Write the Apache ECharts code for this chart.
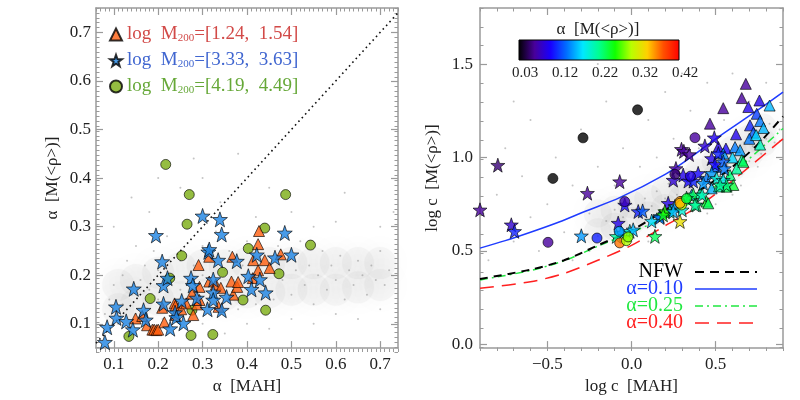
<!DOCTYPE html>
<html><head><meta charset="utf-8">
<script src="https://cdn.jsdelivr.net/npm/echarts@6/dist/echarts.min.js"></script>
<style>html,body{margin:0;padding:0;background:#fff}#c{width:800px;height:400px}</style>
</head><body><div id="c"></div>
<script>
// ---------- tick values ----------
const leftXTicks = [0.1,0.2,0.3,0.4,0.5,0.6,0.7];
const leftYTicks = [0.1,0.2,0.3,0.4,0.5,0.6,0.7];
const rightXTicks = [-0.5,0,0.5];
const rightYTicks = [0,0.5,1.0,1.5];
const rightYMinor = [0,0.1,0.2,0.3,0.4,0.5,0.6,0.7,0.8,0.9,1.0,1.1,1.2,1.3,1.4,1.5,1.6,1.7,1.8];
const colorbarLabels = ['0.03','0.12','0.22','0.32','0.42'];
const cbColors = ['#000000','#48009a','#1800ff','#0070ff','#00e8ff','#00ff90','#10ff00','#b8ff00','#ffd000','#ff5000','#ff0000'];

// ---------- left panel data: [alpha MAH, alpha M(<rho>)] ----------
const triLeft = [[0.149,0.111],[0.164,0.116],[0.175,0.097],[0.187,0.088],[0.191,0.088],[0.196,0.087],[0.200,0.088],[0.209,0.133],[0.214,0.103],[0.237,0.142],[0.239,0.137],[0.238,0.118],[0.252,0.130],[0.263,0.142],[0.276,0.162],[0.279,0.118],[0.288,0.140],[0.291,0.221],[0.293,0.176],[0.293,0.149],[0.315,0.238],[0.315,0.187],[0.330,0.181],[0.336,0.135],[0.341,0.174],[0.365,0.187],[0.367,0.238],[0.369,0.160],[0.378,0.176],[0.380,0.186],[0.413,0.194],[0.414,0.231],[0.425,0.264],[0.427,0.291],[0.425,0.210],[0.440,0.231],[0.451,0.215],[0.476,0.243]];
const starLeft = [[0.080,0.062],[0.085,0.093],[0.105,0.135],[0.106,0.112],[0.128,0.105],[0.145,0.172],[0.143,0.088],[0.167,0.128],[0.172,0.108],[0.195,0.282],[0.209,0.228],[0.212,0.179],[0.212,0.141],[0.221,0.194],[0.227,0.090],[0.238,0.123],[0.241,0.113],[0.253,0.147],[0.257,0.101],[0.274,0.194],[0.278,0.179],[0.287,0.153],[0.300,0.322],[0.313,0.248],[0.315,0.253],[0.311,0.130],[0.324,0.191],[0.324,0.164],[0.324,0.149],[0.335,0.231],[0.339,0.315],[0.343,0.284],[0.343,0.128],[0.354,0.155],[0.377,0.229],[0.403,0.198],[0.410,0.171],[0.422,0.242],[0.429,0.191],[0.442,0.164],[0.463,0.236],[0.485,0.287],[0.500,0.242]];
const circLeft = [[0.217,0.428],[0.270,0.366],[0.487,0.366],[0.265,0.305],[0.253,0.240],[0.226,0.194],[0.182,0.152],[0.134,0.074],[0.276,0.128],[0.274,0.076],[0.323,0.078],[0.345,0.206],[0.391,0.149],[0.403,0.255],[0.440,0.297],[0.442,0.128],[0.472,0.203],[0.543,0.262]];
const diagLine = [[0.06,0.06],[0.74,0.74]];
const cloudLeft = [[0.11,0.13],[0.11,0.18],[0.15,0.14],[0.15,0.19],[0.2,0.15],[0.2,0.205],[0.25,0.155],[0.25,0.215],[0.3,0.16],[0.3,0.22],[0.35,0.16],[0.35,0.22],[0.4,0.165],[0.4,0.225],[0.45,0.165],[0.45,0.225],[0.5,0.17],[0.5,0.225],[0.55,0.17],[0.55,0.225],[0.6,0.17],[0.6,0.225],[0.65,0.175],[0.65,0.225],[0.7,0.18],[0.7,0.225]];
const speckLeft = [[0.08,0.12],[0.09,0.15],[0.1,0.18],[0.11,0.1],[0.12,0.2],[0.12,0.14],[0.13,0.23],[0.14,0.16],[0.15,0.12],[0.15,0.26],[0.16,0.19],[0.17,0.22],[0.17,0.13],[0.18,0.17],[0.19,0.25],[0.2,0.15],[0.2,0.21],[0.21,0.11],[0.22,0.18],[0.22,0.28],[0.23,0.2],[0.24,0.14],[0.25,0.23],[0.25,0.17],[0.26,0.31],[0.27,0.19],[0.27,0.12],[0.28,0.22],[0.29,0.16],[0.3,0.26],[0.3,0.2],[0.31,0.14],[0.32,0.23],[0.33,0.18],[0.33,0.29],[0.34,0.12],[0.35,0.21],[0.36,0.16],[0.36,0.25],[0.37,0.19],[0.38,0.13],[0.39,0.22],[0.4,0.27],[0.4,0.17],[0.41,0.2],[0.42,0.14],[0.43,0.24],[0.44,0.18],[0.45,0.21],[0.46,0.15],[0.47,0.26],[0.48,0.19],[0.49,0.23],[0.5,0.16],[0.51,0.21],[0.52,0.27],[0.53,0.18],[0.54,0.22],[0.55,0.14],[0.56,0.2],[0.57,0.25],[0.58,0.17],[0.59,0.22],[0.6,0.19],[0.61,0.24],[0.62,0.15],[0.63,0.21],[0.64,0.18],[0.65,0.23],[0.66,0.2],[0.67,0.16],[0.68,0.22],[0.69,0.19],[0.7,0.25],[0.71,0.18],[0.72,0.21],[0.1,0.3],[0.14,0.36],[0.18,0.33],[0.25,0.38],[0.3,0.4],[0.34,0.35],[0.42,0.32],[0.45,0.38],[0.5,0.33],[0.55,0.3],[0.6,0.31],[0.7,0.3],[0.38,0.45],[0.28,0.44],[0.2,0.4],[0.62,0.37],[0.73,0.33],[0.3,0.1],[0.4,0.1],[0.5,0.11],[0.6,0.12],[0.35,0.08],[0.45,0.09],[0.7,0.13],[0.25,0.09],[0.55,0.1],[0.65,0.11]];

// ---------- right panel data: [log c MAH, log c M(<rho>), alpha] ----------
const triRight = [[0.679,1.394,0.07],[0.655,1.318,0.07],[0.76,1.305,0.10],[0.694,1.27,0.10],[0.82,1.278,0.17],[0.545,1.264,0.07],[0.466,1.181,0.07],[0.744,1.234,0.13],[0.764,1.195,0.15],[0.704,1.172,0.12],[0.784,1.158,0.17],[0.621,1.124,0.10],[0.724,1.133,0.14],[0.516,1.056,0.10],[0.561,1.048,0.11],[0.615,1.056,0.15],[0.645,1.039,0.16],[0.764,1.069,0.21],[0.545,1.021,0.16],[0.655,0.986,0.22],[0.585,0.906,0.23],[0.625,0.941,0.22],[0.664,0.977,0.24],[0.605,0.853,0.25],[0.446,0.764,0.25],[0.357,0.8,0.17],[0.407,0.809,0.22],[0.456,0.755,0.24],[0.476,0.835,0.17],[0.52,0.845,0.22],[0.565,0.844,0.24],[0.70,1.10,0.15],[0.74,1.12,0.18],[0.60,1.00,0.18],[0.50,0.95,0.14]];
const starRight = [[-0.794,0.959,0.06],[-0.262,0.809,0.07],[-0.07,0.871,0.07],[-0.9,0.72,0.07],[-0.714,0.64,0.09],[-0.695,0.605,0.12],[-0.298,0.581,0.16],[-0.079,0.649,0.10],[-0.06,0.596,0.17],[-0.01,0.605,0.2],[0.01,0.613,0.17],[-0.089,0.578,0.22],[-0.04,0.746,0.11],[0.04,0.711,0.12],[0.066,0.714,0.14],[0.139,0.578,0.24],[0.436,1.062,0.09],[0.297,1.044,0.07],[0.311,1.033,0.07],[0.343,1.016,0.07],[0.264,0.941,0.07],[0.248,0.879,0.09],[0.307,0.906,0.10],[0.337,0.874,0.11],[0.367,0.874,0.12],[0.396,0.915,0.11],[0.476,0.995,0.10],[0.516,1.021,0.12],[0.496,0.963,0.11],[0.545,0.977,0.14],[0.551,0.941,0.15],[0.492,1.106,0.10],[0.446,0.888,0.15],[0.476,0.915,0.16],[0.426,0.862,0.16],[0.506,0.888,0.2],[0.545,0.879,0.19],[0.565,0.853,0.23],[0.526,0.853,0.22],[0.367,0.8,0.24],[0.327,0.782,0.23],[0.387,0.746,0.23],[0.218,0.755,0.10],[0.258,0.738,0.16],[0.228,0.711,0.22],[0.288,0.658,0.33],[0.169,0.685,0.16],[0.198,0.711,0.27],[0.248,0.711,0.17],[0.168,0.679,0.15],[0.188,0.693,0.26],[0.377,0.746,0.22],[0.30,0.72,0.20],[0.12,0.66,0.18],[0.42,0.80,0.21]];
const circRight = [[-0.467,0.888,0.03],[-0.288,1.105,0.03],[0.036,1.255,0.03],[-0.496,0.546,0.07],[-0.205,0.569,0.12],[-0.073,0.605,0.16],[-0.07,0.543,0.37],[-0.03,0.555,0.30],[-0.02,0.575,0.29],[-0.04,0.764,0.08],[0.377,1.106,0.07],[0.258,0.91,0.06],[0.288,0.764,0.36],[0.297,0.746,0.31],[0.288,0.755,0.35],[0.327,0.78,0.25],[0.35,0.90,0.10]];
const nfwCurve = [[-0.9,0.35],[-0.6,0.40],[-0.4,0.45],[-0.2,0.53],[0,0.61],[0.15,0.69],[0.3,0.77],[0.45,0.85],[0.6,0.95],[0.75,1.07],[0.9,1.22]];
const a10Curve = [[-0.9,0.515],[-0.75,0.555],[-0.6,0.60],[-0.43,0.655],[-0.27,0.714],[-0.07,0.785],[0.2,0.91],[0.35,1.0],[0.5,1.10],[0.76,1.26],[0.9,1.35]];
const a25Curve = [[-0.9,0.345],[-0.6,0.395],[-0.4,0.448],[-0.2,0.525],[0,0.60],[0.2,0.68],[0.45,0.815],[0.65,0.955],[0.9,1.155]];
const a40Curve = [[-0.9,0.30],[-0.6,0.335],[-0.4,0.38],[-0.2,0.45],[0,0.53],[0.2,0.635],[0.4,0.74],[0.55,0.84],[0.7,0.95],[0.9,1.10]];
const cloudRight = [[-0.2,0.60],[-0.2,0.70],[-0.1,0.63],[-0.1,0.72],[0,0.66],[0,0.75],[0.1,0.69],[0.1,0.78],[0.2,0.73],[0.2,0.82],[0.3,0.78],[0.3,0.87],[0.4,0.83],[0.4,0.92],[0.5,0.89],[0.5,0.98],[0.6,0.95],[0.6,1.04],[0.7,1.02],[0.7,1.10],[0.78,1.08],[0.78,1.16]];
const speckRight = [[-0.3,0.6],[-0.25,0.7],[-0.2,0.58],[-0.15,0.66],[-0.1,0.72],[-0.08,0.6],[-0.05,0.68],[0,0.75],[0.02,0.63],[0.05,0.7],[0.08,0.78],[0.1,0.66],[0.12,0.74],[0.15,0.82],[0.17,0.7],[0.2,0.78],[0.22,0.86],[0.24,0.72],[0.27,0.8],[0.3,0.88],[0.32,0.76],[0.35,0.84],[0.37,0.92],[0.4,0.8],[0.42,0.88],[0.45,0.96],[0.47,0.84],[0.5,0.92],[0.52,1.0],[0.55,0.88],[0.57,0.96],[0.6,1.04],[0.62,0.92],[0.65,1.0],[0.67,1.08],[0.7,0.98],[0.72,1.06],[0.75,1.14],[0.77,1.02],[0.8,1.1],[0.82,1.18],[0.85,1.08],[0.88,1.15],[-0.85,0.45],[-0.8,0.8],[-0.75,1.05],[-0.7,0.55],[-0.65,0.9],[-0.6,1.2],[-0.55,0.5],[-0.5,0.75],[-0.45,1.0],[-0.4,0.6],[-0.35,0.85],[-0.3,1.15],[-0.25,0.5],[-0.2,0.95],[-0.15,1.3],[-0.1,0.85],[-0.05,1.05],[0,0.55],[0.05,0.95],[0.1,1.2],[0.15,1.0],[0.2,1.35],[0.25,1.1],[0.3,0.65],[0.35,1.25],[0.4,1.05],[0.45,1.4],[0.5,0.75],[0.55,1.2],[0.6,1.45],[0.65,0.85],[0.7,1.3],[0.75,0.95],[0.8,1.4],[0.85,1.25],[-0.88,0.7],[-0.6,0.68],[-0.35,0.45],[0.1,0.55],[0.3,1.45],[-0.7,1.3],[-0.2,1.5],[0.6,0.8],[0.45,0.7]];

const names = ['log M200=[1.24, 1.54]','log M200=[3.33, 3.63]','log M200=[4.19, 4.49]'];

// ---------- styling ----------
const FONT = 'Liberation Serif';
const AX = '#9a9a9a';
const STAR = 'path://M0,-10L2.35,-3.24L9.51,-3.09L3.8,1.24L5.88,8.09L0,4L-5.88,8.09L-3.8,1.24L-9.51,-3.09L-2.35,-3.24Z';
const fmt1 = v => (v < 0 ? '\u2212' : '') + Math.abs(v).toFixed(1);

function mainAxis(gi, pos, min, max, ticks, extra) {
  const a = {
    type: 'value', gridIndex: gi, position: pos, min: min, max: max,
    axisLine: {show: true, onZero: false, lineStyle: {color: AX, width: 1.5}},
    axisTick: {show: true, inside: true, length: 7, customValues: ticks, lineStyle: {color: AX, width: 1.2}},
    axisLabel: {show: false, customValues: ticks},
    splitLine: {show: false}
  };
  return Object.assign(a, extra || {});
}
function minorAxis(gi, pos, min, max, spec) {
  const a = {
    type: 'value', gridIndex: gi, position: pos, min: min, max: max,
    axisLine: {show: false, onZero: false}, axisLabel: {show: false}, splitLine: {show: false},
    axisTick: {show: true, inside: true, length: 3.5, lineStyle: {color: AX, width: 1}}
  };
  if (Array.isArray(spec)) a.axisTick.customValues = spec; else a.interval = spec;
  return a;
}
const lbl = (margin) => ({show: true, margin: margin, color: '#222', fontSize: 17, fontFamily: FONT, formatter: fmt1});
const nm = {color: '#222', fontSize: 17, fontFamily: FONT};

const LX = [0.06, 0.74], LY = [0.05, 0.75], RX = [-0.9, 0.9], RY = [-0.02, 1.8];
const gL = {left: 96, top: 8, width: 302, height: 344};
const gR = {left: 480, top: 8, width: 303, height: 343};

const xAxis = [
  mainAxis(0, 'bottom', LX[0], LX[1], leftXTicks, {axisLabel: Object.assign(lbl(8), {customValues: leftXTicks}), name: '\u03b1  [MAH]', nameLocation: 'middle', nameGap: 26, nameTextStyle: nm}),
  mainAxis(0, 'top', LX[0], LX[1], leftXTicks),
  minorAxis(1, 'bottom', LX[0], LX[1], 0.01),
  minorAxis(1, 'top', LX[0], LX[1], 0.01),
  mainAxis(2, 'bottom', RX[0], RX[1], rightXTicks, {axisLabel: Object.assign(lbl(8), {customValues: rightXTicks}), name: 'log c  [MAH]', nameLocation: 'middle', nameGap: 26, nameTextStyle: nm}),
  mainAxis(2, 'top', RX[0], RX[1], rightXTicks),
  minorAxis(3, 'bottom', RX[0], RX[1], 0.1),
  minorAxis(3, 'top', RX[0], RX[1], 0.1)
];
const yAxis = [
  mainAxis(0, 'left', LY[0], LY[1], leftYTicks, {axisLabel: Object.assign(lbl(5), {customValues: leftYTicks}), name: '\u03b1  [M(<\u03c1>)]', nameLocation: 'middle', nameGap: 35, nameTextStyle: nm}),
  mainAxis(0, 'right', LY[0], LY[1], leftYTicks),
  minorAxis(1, 'left', LY[0], LY[1], 0.01),
  minorAxis(1, 'right', LY[0], LY[1], 0.01),
  mainAxis(2, 'left', RY[0], RY[1], rightYTicks, {axisLabel: Object.assign(lbl(7), {customValues: rightYTicks}), name: 'log c  [M(<\u03c1>)]', nameLocation: 'middle', nameGap: 39, nameTextStyle: nm}),
  mainAxis(2, 'right', RY[0], RY[1], rightYTicks),
  minorAxis(3, 'left', RY[0], RY[1], rightYMinor),
  minorAxis(3, 'right', RY[0], RY[1], rightYMinor)
];

const cloudStyle = {color: 'rgba(135,135,135,0.07)', shadowBlur: 18, shadowColor: 'rgba(135,135,135,1)'};
const speckStyle = {color: 'rgba(120,120,120,0.55)'};
const mk = {borderColor: '#000', borderWidth: 0.8};

const series = [
  {type: 'scatter', xAxisIndex: 0, yAxisIndex: 0, data: cloudLeft, symbolSize: 32, itemStyle: cloudStyle, silent: true, z: 1},
  {type: 'scatter', xAxisIndex: 0, yAxisIndex: 0, data: speckLeft, symbolSize: 2, itemStyle: speckStyle, silent: true, z: 2},
  {type: 'line', xAxisIndex: 0, yAxisIndex: 0, data: diagLine, showSymbol: false, lineStyle: {color: '#111', width: 1.6, type: [1.6, 3.4]}, z: 3, silent: true},
  {name: names[2], type: 'scatter', xAxisIndex: 0, yAxisIndex: 0, data: circLeft, symbol: 'circle', symbolSize: 10, itemStyle: Object.assign({color: '#7aad12'}, mk), z: 4},
  {name: names[0], type: 'scatter', xAxisIndex: 0, yAxisIndex: 0, data: triLeft, symbol: 'triangle', symbolSize: 11, itemStyle: Object.assign({color: '#ff5e0e'}, mk), z: 5},
  {name: names[1], type: 'scatter', xAxisIndex: 0, yAxisIndex: 0, data: starLeft, symbol: STAR, symbolSize: 15, itemStyle: Object.assign({color: '#1a82e2'}, mk), z: 6},

  {type: 'scatter', xAxisIndex: 4, yAxisIndex: 4, data: cloudRight, symbolSize: 28, itemStyle: cloudStyle, silent: true, z: 1},
  {type: 'scatter', xAxisIndex: 4, yAxisIndex: 4, data: speckRight, symbolSize: 2, itemStyle: speckStyle, silent: true, z: 2},
  {type: 'line', xAxisIndex: 4, yAxisIndex: 4, data: a10Curve, smooth: 0.3, showSymbol: false, lineStyle: {color: '#1f3cff', width: 1.5}, z: 3, silent: true},
  {type: 'line', xAxisIndex: 4, yAxisIndex: 4, data: a40Curve, smooth: 0.3, showSymbol: false, lineStyle: {color: '#ff2020', width: 1.5, type: [14, 8]}, z: 3, silent: true},
  {type: 'line', xAxisIndex: 4, yAxisIndex: 4, data: a25Curve, smooth: 0.3, showSymbol: false, lineStyle: {color: '#20e840', width: 1.5, type: [8, 4, 2, 4]}, z: 3, silent: true},
  {type: 'line', xAxisIndex: 4, yAxisIndex: 4, data: nfwCurve, smooth: 0.3, showSymbol: false, lineStyle: {color: '#000', width: 2, type: [8, 6]}, z: 3, silent: true},
  {type: 'scatter', xAxisIndex: 4, yAxisIndex: 4, data: triRight, symbol: 'triangle', symbolSize: 11, itemStyle: mk, z: 5},
  {type: 'scatter', xAxisIndex: 4, yAxisIndex: 4, data: starRight, symbol: STAR, symbolSize: 14, itemStyle: mk, z: 6},
  {type: 'scatter', xAxisIndex: 4, yAxisIndex: 4, data: circRight, symbol: 'circle', symbolSize: 10, itemStyle: mk, z: 7}
];

const legendColors = ['#d24a48', '#4066d0', '#66a838'];
const graphic = [
  {type: 'rect', x: 519, y: 40, shape: {width: 160, height: 20}, z: 100,
   style: {fill: new echarts.graphic.LinearGradient(0, 0, 1, 0, cbColors.map((c, i) => ({offset: i / (cbColors.length - 1), color: c}))), stroke: '#000', lineWidth: 1}},
  {type: 'text', x: 598, y: 30, z: 100, style: {text: '\u03b1  [M(<\u03c1>)]', align: 'center', verticalAlign: 'middle', fill: '#222', font: '17px "Liberation Serif"'}}
].concat(colorbarLabels.map((t, i) => ({type: 'text', x: 525 + 40 * i, y: 73, z: 100, style: {text: t, align: 'center', verticalAlign: 'middle', fill: '#222', font: '15px "Liberation Serif"'}})));

const rl = [
  {t: 'NFW', c: '#000', y: 272, lw: 2, dash: [9, 6]},
  {t: '\u03b1=0.10', c: '#1f3cff', y: 289, lw: 1.5, dash: null},
  {t: '\u03b1=0.25', c: '#20e840', y: 306, lw: 1.5, dash: [8, 4, 2, 4]},
  {t: '\u03b1=0.40', c: '#ff2020', y: 323, lw: 1.5, dash: [14, 8]}
];
rl.forEach(r => {
  graphic.push({type: 'text', x: 683, y: r.y, z: 100, style: {text: r.t, align: 'right', verticalAlign: 'middle', fill: r.c, font: '20px "Liberation Serif"'}});
  graphic.push({type: 'line', z: 100, shape: {x1: 695, y1: r.y, x2: 757, y2: r.y}, style: {stroke: r.c, lineWidth: r.lw, lineDash: r.dash}});
});

const option = {
  animation: false,
  backgroundColor: '#fff',
  textStyle: {fontFamily: FONT},
  grid: [Object.assign({}, gL), Object.assign({}, gL), Object.assign({}, gR), Object.assign({}, gR)],
  xAxis: xAxis,
  yAxis: yAxis,
  visualMap: {show: false, type: 'continuous', min: 0.03, max: 0.42, dimension: 2, seriesIndex: [12, 13, 14], inRange: {color: cbColors}},
  legend: {
    orient: 'vertical', left: 104, top: 20, itemGap: 7, itemWidth: 12, itemHeight: 12,
    selectedMode: false,
    data: [
      {name: names[0], textStyle: {color: legendColors[0]}},
      {name: names[1], textStyle: {color: legendColors[1]}},
      {name: names[2], textStyle: {color: legendColors[2]}}
    ],
    formatter: n => n.replace('log M200', 'log  M{s|200}').replace(', ', ',  '),
    textStyle: {fontSize: 19, fontFamily: FONT, rich: {s: {fontSize: 11, fontFamily: FONT, verticalAlign: 'bottom'}}}
  },
  graphic: graphic,
  series: series
};
const chart = echarts.init(document.getElementById('c'), null, {renderer: 'canvas'});
chart.setOption(option);
</script></body></html>
